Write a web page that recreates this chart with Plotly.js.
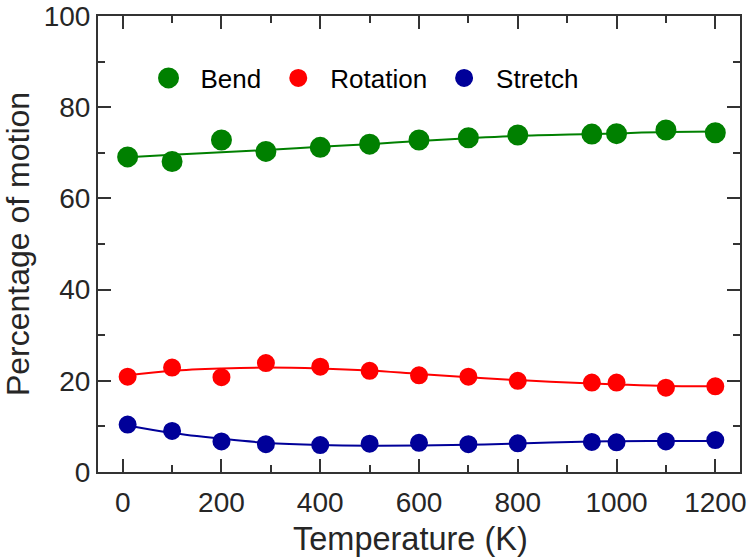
<!DOCTYPE html>
<html>
<head>
<meta charset="utf-8">
<script src="https://cdn.plot.ly/plotly-3.0.1.min.js"></script>
<style>html,body{margin:0;padding:0;background:#fff;}#chart{width:747px;height:557px;}</style>
</head>
<body>
<div id="chart"></div>
<script>
const temps = [10, 100, 200, 290, 400, 500, 600, 700, 800, 950, 1000, 1100, 1200];
const bend = [69.1, 68.1, 72.8, 70.3, 71.2, 71.9, 72.8, 73.3, 73.9, 74.1, 74.2, 75.0, 74.4];
const rotation = [20.9, 22.9, 20.8, 23.9, 23.1, 22.2, 21.2, 20.9, 20.0, 19.6, 19.6, 18.5, 18.8];
const stretch = [10.4, 9.0, 6.7, 6.1, 5.9, 6.2, 6.4, 6.1, 6.3, 6.6, 6.5, 6.7, 7.0];
const bendFit = [69.05, 69.55, 70.1, 70.6, 71.3, 71.9, 72.6, 73.2, 73.7, 74.1, 74.25, 74.55, 74.65];
const rotationFit = [21.2, 22.2, 22.7, 22.9, 22.7, 22.25, 21.5, 20.8, 20.15, 19.4, 19.2, 18.85, 18.8];
const stretchFit = [10.2, 8.55, 7.3, 6.4, 5.9, 5.75, 5.8, 5.95, 6.25, 6.7, 6.75, 6.8, 6.8];
const seriesNames = ['Bend', 'Rotation', 'Stretch'];
const colors = ['#008000', '#ff0000', '#000099'];
const xTicks = [0, 200, 400, 600, 800, 1000, 1200];
const yTicks = [0, 20, 40, 60, 80, 100];
const xTitle = 'Temperature (K)';
const yTitle = 'Percentage of motion';

const vals = [bend, rotation, stretch];
const fits = [bendFit, rotationFit, stretchFit];
const lineW = [5, 2, 2];
const FONT = 'Liberation Sans, Arial, sans-serif';

const traces = [];
for (let i = 0; i < 3; i++) {
  traces.push({
    x: temps, y: fits[i], mode: 'lines', type: 'scatter',
    line: {color: colors[i], width: 2, shape: 'spline', smoothing: 1},
    showlegend: false, hoverinfo: 'skip'
  });
}
for (let i = 0; i < 3; i++) {
  traces.push({
    x: temps, y: vals[i], mode: 'markers', type: 'scatter', name: seriesNames[i],
    marker: {color: colors[i], size: 16, line: {color: colors[i], width: lineW[i]}}
  });
}

const axisCommon = {
  showline: true, linecolor: '#333', linewidth: 2, mirror: 'ticks',
  ticks: 'inside', tickcolor: '#333', tickwidth: 2, ticklen: 13,
  showgrid: false, zeroline: false, ticklabeloverflow: 'allow',
  tickfont: {family: FONT, size: 28, color: '#262626'}
};

const layout = {
  width: 747, height: 557,
  margin: {l: 98, r: 7, t: 16, b: 85},
  paper_bgcolor: '#fff', plot_bgcolor: '#fff',
  showlegend: true,
  legend: {
    orientation: 'h', x: 0.06, xanchor: 'left', y: 0.864, yanchor: 'middle',
    bgcolor: 'rgba(0,0,0,0)', itemwidth: 54,
    font: {family: FONT, size: 26, color: '#000'}
  },
  xaxis: Object.assign({}, axisCommon, {
    range: [-50, 1250], tickvals: xTicks, ticktext: xTicks.map(String),
    minor: {dtick: 100, tick0: 0, ticks: 'inside', ticklen: 7, tickcolor: '#333', tickwidth: 2},
    ticklabelstandoff: 4
  }),
  yaxis: Object.assign({}, axisCommon, {
    range: [0, 100], tickvals: yTicks, ticktext: yTicks.map(String),
    minor: {dtick: 10, tick0: 0, ticks: 'inside', ticklen: 7, tickcolor: '#333', tickwidth: 2},
    title: {text: yTitle, standoff: 9,
      font: {family: FONT, size: 32, color: '#262626'}}
  }),
  annotations: [{
    text: xTitle, xref: 'paper', yref: 'paper', x: 0.487, y: -0.147,
    xanchor: 'center', yanchor: 'middle', showarrow: false,
    font: {family: FONT, size: 32.5, color: '#262626'}
  }]
};

Plotly.newPlot('chart', traces, layout, {displayModeBar: false, staticPlot: true});
</script>
</body>
</html>
